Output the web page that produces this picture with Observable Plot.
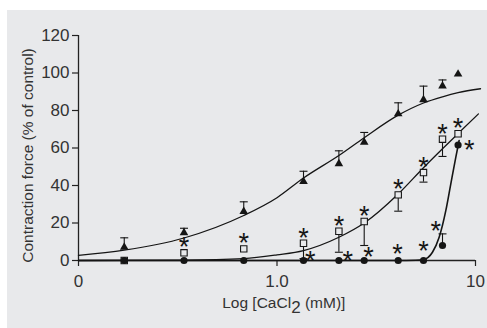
<!DOCTYPE html>
<html><head><meta charset="utf-8">
<script src="https://cdn.jsdelivr.net/npm/d3@7"></script>
<script src="https://cdn.jsdelivr.net/npm/@observablehq/plot@0.6"></script>
<style>
html,body{margin:0;padding:0;background:#fff;}
#chart{position:absolute;left:7px;top:10px;width:480px;height:318px;background:#e8e9eb;}
#chart svg{overflow:visible;}
</style></head><body><div id="chart"></div>
<script>
// ---- data ----
const conc    = [0.17, 0.34, 0.68, 1.36, 2.05, 2.75, 4.08, 5.47, 6.82, 8.17];
const triMean = [7.1, 14.8, 26.1, 42.1, 51.6, 63.1, 78.2, 85.7, 93.1, 99.4];
const triErr  = [12.1, 17.2, 31.3, 47.6, 58.5, 68.3, 84.1, 93.0, 96.3, null];
const sqMean  = [0, 4.1, 6.2, 9.2, 15.6, 20.8, 35.0, 46.9, 64.7, 67.6];
const sqErr   = [null, null, null, 1.0, 4.4, 8.0, 26.3, 41.8, 55.5, null];
const sqSig   = [false, true, true, true, true, true, true, true, true, true];
const ciMean  = [0, 0, 0, 0, 0, 0, 0, 0, 8.0, 61.6];
const ciErr   = [null, null, null, null, null, null, null, null, 14.2, null];
const ciSigX  = [1.47, 2.27, 2.89, 4.05, 5.47, 6.31, 9.29];
const ciSigY  = [3.2, 3.2, 5.3, 6.8, 8.4, 19.0, 62.2];

const triCurveX = [0.1, 0.17, 0.34, 0.68, 1.0, 1.36, 2.05, 2.75, 4.08, 5.47, 6.82, 8.17, 10.6];
const triCurveY = [2.7, 5.5, 12, 24, 33.5, 44, 56, 65.5, 77.5, 84, 87.3, 89.5, 91.6];
const sqCurveX  = [0.1, 0.34, 0.68, 1.0, 1.36, 2.05, 2.75, 4.08, 5.47, 6.82, 8.17, 10.35];
const sqCurveY  = [0, 0.2, 1, 3, 5.3, 12.4, 20, 35.5, 49.5, 59.6, 67.7, 78.2];
const ciCurveX  = [0.1, 1, 4.0, 5.0, 5.47, 6.07, 6.56, 7.09, 7.51, 7.96, 8.27];
const ciCurveY  = [0, 0, 0, 0.1, 0.5, 4.4, 12.4, 26.7, 40.9, 55.1, 64];

const yTicks = [0, 20, 40, 60, 80, 100, 120];
const xTicks = [0.1, 1, 10];
const xTickLabels = ["0", "1.0", "10"];
const yLabel = "Contraction force (% of control)";

// ---- tables ----
const pts = (ys, es) => conc.map((x, i) => ({x, y: ys[i], e: es[i]}));
const tri = pts(triMean, triErr), sq = pts(sqMean, sqErr), ci = pts(ciMean, ciErr);
const sqStars = sq.filter((d, i) => sqSig[i]);
const ciStars = ciSigX.map((x, i) => ({x, y: ciSigY[i]}));
const curve = (xs, ys) => xs.map((x, i) => ({x, y: ys[i]}));

const BG = "#e8e9eb", INK = "#151515", TXT = "#333";
const cap = {draw(ctx) { ctx.moveTo(-4, 0); ctx.lineTo(4, 0); }};
const STAR = 27, starShift = 0.255 * STAR;
const font = "'Liberation Sans', Arial, Helvetica, sans-serif";

const plot = Plot.plot({
  width: 480, height: 318,
  marginLeft: 71, marginRight: 12, marginTop: 25, marginBottom: 68,
  style: {background: "transparent", fontFamily: font, fontSize: "17px", color: TXT},
  x: {type: "log", domain: [0.1, 10]},
  y: {domain: [0, 120]},
  marks: [
    Plot.axisY({ticks: yTicks, tickSize: 6, tickPadding: 3, label: null, stroke: "#222", strokeWidth: 1.2, fill: TXT}),
    Plot.axisX({ticks: xTicks, tickSize: 6, tickPadding: 8, label: null, stroke: "#222", strokeWidth: 1.2, fill: TXT,
      tickFormat: d => xTickLabels[xTicks.indexOf(d)]}),
    Plot.ruleX([0.1], {y1: 0, y2: 120, stroke: "#222", strokeWidth: 1.3}),
    Plot.ruleY([0], {x1: 0.1, x2: 10, stroke: "#222", strokeWidth: 1.3}),
    // fitted curves
    Plot.line(curve(triCurveX, triCurveY), {x: "x", y: "y", curve: "monotone-x", stroke: INK, strokeWidth: 1.3}),
    Plot.line(curve(sqCurveX, sqCurveY), {x: "x", y: "y", curve: "monotone-x", stroke: INK, strokeWidth: 1.3}),
    Plot.line(curve(ciCurveX, ciCurveY), {x: "x", y: "y", curve: "monotone-x", stroke: INK, strokeWidth: 1.6}),
    // error bars
    Plot.ruleX(tri.filter(d => d.e != null), {x: "x", y1: "y", y2: "e", stroke: INK, strokeWidth: 1.1}),
    Plot.dot(tri.filter(d => d.e != null), {x: "x", y: "e", symbol: cap, stroke: INK, strokeWidth: 1.1, fill: "none"}),
    Plot.ruleX(sq.filter(d => d.e != null), {x: "x", y1: "y", y2: "e", stroke: INK, strokeWidth: 1.1}),
    Plot.dot(sq.filter(d => d.e != null), {x: "x", y: "e", symbol: cap, stroke: INK, strokeWidth: 1.1, fill: "none"}),
    Plot.ruleX(ci.filter(d => d.e != null), {x: "x", y1: "y", y2: "e", stroke: INK, strokeWidth: 1.1}),
    Plot.dot(ci.filter(d => d.e != null), {x: "x", y: "e", symbol: cap, stroke: INK, strokeWidth: 1.1, fill: "none"}),
    // markers
    Plot.dot(tri, {x: "x", y: "y", symbol: "triangle", r: 3.2, fill: INK, stroke: "none"}),
    Plot.dot(sq, {x: "x", y: "y", symbol: "square", r: 3.6, fill: BG, stroke: INK, strokeWidth: 1.1}),
    Plot.dot(ci, {x: "x", y: "y", symbol: "circle", r: 3.6, fill: INK, stroke: "none"}),
    // significance asterisks
    Plot.text(sqStars, {x: "x", y: "y", text: () => "*", dy: -12 + starShift, fontSize: STAR, fill: INK, lineAnchor: "middle"}),
    Plot.text(ciStars, {x: "x", y: "y", text: () => "*", dy: starShift, fontSize: STAR, fill: INK, lineAnchor: "middle"})
  ]
});

const svg = d3.select(plot);
svg.selectAll('[aria-label*="tick label"]').style("font-size", "17px");
svg.selectAll('[aria-label*="tick label"] text').style("font-size", "17px");
svg.append("text")
  .attr("transform", "translate(26.3,145.5) rotate(-90)")
  .attr("text-anchor", "middle")
  .attr("font-family", font).attr("font-size", 15.5).attr("fill", TXT)
  .text(yLabel);
const xl = svg.append("text")
  .attr("x", 276.8).attr("y", 298.3)
  .attr("text-anchor", "middle")
  .attr("font-family", font).attr("font-size", 15.5).attr("fill", TXT);
xl.append("tspan").text("Log [CaCl");
xl.append("tspan").attr("font-size", 17).attr("dy", 5).text("2");
xl.append("tspan").attr("dy", -5).text(" (mM)]");

document.getElementById("chart").appendChild(plot);
</script></body></html>
